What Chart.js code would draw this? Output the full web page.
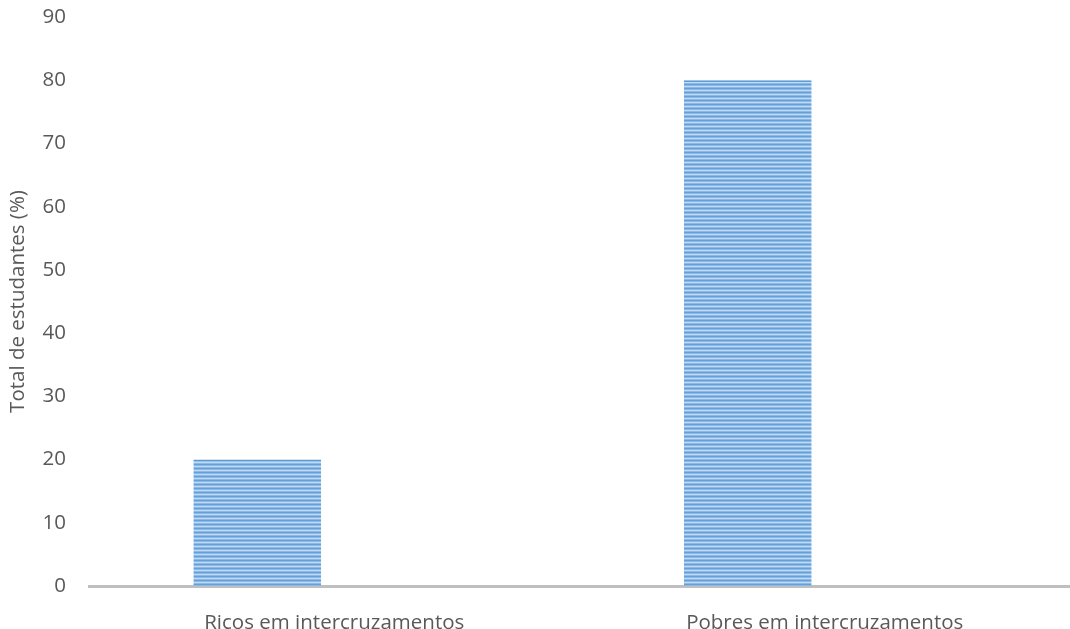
<!DOCTYPE html>
<html>
<head>
<meta charset="utf-8">
<script src="https://cdn.jsdelivr.net/npm/chart.js@4"></script>
<style>
    html, body { margin: 0; padding: 0; background: #fff; }
    #wrap { width: 1070px; height: 629px; position: relative; }
</style>
</head>
<body>
<div id="wrap"><canvas id="studentsChart"></canvas></div>
<script>
const categories = ['Ricos em intercruzamentos', 'Pobres em intercruzamentos'];
const totals = [20, 80];
const yTicks = [0, 10, 20, 30, 40, 50, 60, 70, 80, 90];

// horizontal striped fill used by the bars
function stripeFill(ctx) {
    const c = document.createElement('canvas');
    c.width = 8;
    c.height = 4;
    const p = c.getContext('2d');
    const rows = ['#65a0d9', '#8ab9e7', '#c3daf2', '#8ab9e7'];
    rows.forEach((col, i) => {
        p.fillStyle = col;
        p.fillRect(0, i, 8, 1);
    });
    return ctx.createPattern(c, 'repeat');
}

const ctx = document.getElementById('studentsChart').getContext('2d');
const tickFont = { family: 'Open Sans', size: 20.5, lineHeight: 1 };

new Chart(ctx, {
    type: 'bar',
    data: {
        labels: categories,
        datasets: [{
            label: 'Total',
            data: totals,
            backgroundColor: stripeFill(ctx),
            borderColor: '#5b9bd5',
            borderWidth: { top: 2, left: 0, right: 0, bottom: 0 },
            borderSkipped: false,
            categoryPercentage: 0.628,
            barPercentage: 0.83
        }, {
            label: '',
            data: [null, null],
            categoryPercentage: 0.628,
            barPercentage: 0.83
        }]
    },
    options: {
        responsive: true,
        maintainAspectRatio: false,
        animation: false,
        layout: { padding: { top: 17, right: 0, bottom: 0, left: 6 } },
        plugins: {
            legend: { display: false },
            tooltip: { enabled: false }
        },
        scales: {
            x: {
                grid: { display: false, drawTicks: false },
                border: { color: '#bfbfbf', width: 3 },
                ticks: { color: '#595959', font: tickFont, padding: 27, maxRotation: 0 },
                afterFit: scale => { scale.height = 43; }
            },
            y: {
                min: 0,
                max: 90,
                afterBuildTicks: axis => { axis.ticks = yTicks.map(v => ({ value: v })); },
                grid: { display: false, drawTicks: false },
                border: { display: false },
                ticks: { color: '#595959', font: tickFont, padding: 23 },
                title: {
                    display: true,
                    text: 'Total de estudantes (%)',
                    color: '#595959',
                    font: { family: 'Open Sans', size: 20.5, lineHeight: 1.2 },
                    padding: { top: 0, bottom: 12 }
                },
                afterFit: scale => {
                    scale.width = 83;
                    scale.paddingTop = 0;
                    scale.paddingBottom = 0;
                }
            }
        }
    }
});
</script>
</body>
</html>
